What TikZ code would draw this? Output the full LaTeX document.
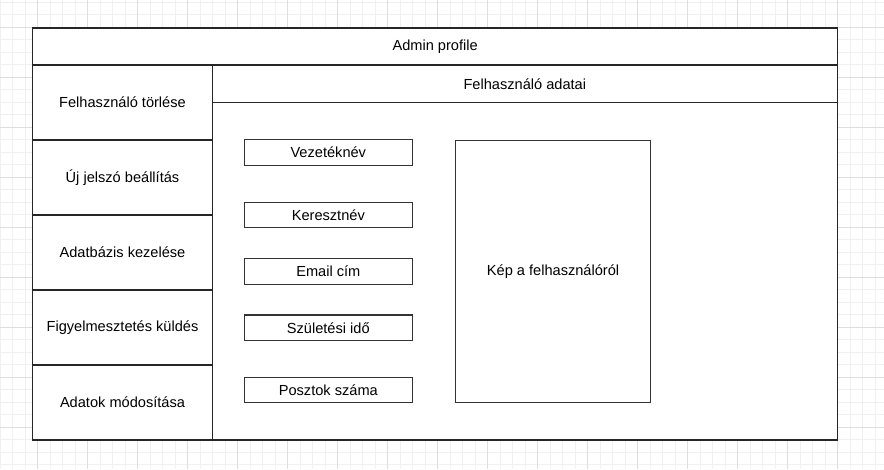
\documentclass[tikz,border=0pt]{standalone}
\usepackage{fontspec}
\setmainfont{Liberation Sans}
\begin{document}
\begin{tikzpicture}[x=1pt,y=-1pt,
  cell/.style={draw=black!85, line width=1.3pt, fill=white, inner sep=0pt, anchor=north west, font=\fontsize{14.6}{17}\selectfont},
  field/.style={draw=black!80, line width=1.1pt, fill=white, inner sep=0pt, anchor=north west, minimum width=167.5pt, minimum height=25.5pt, font=\fontsize{14.6}{17}\selectfont},
  minorgrid/.style={draw=black!6, line width=0.8pt},
  majorgrid/.style={draw=black!13, line width=0.8pt}]
\useasboundingbox (0,0) rectangle (884,469);
\fill[white] (0,0) rectangle (884,469);
% grid
\foreach \i in {0,...,70} {\draw[minorgrid] (0.2+12.5*\i,0) -- (0.2+12.5*\i,469);}
\foreach \i in {0,...,37} {\draw[minorgrid] (0,2.3+12.5*\i) -- (884,2.3+12.5*\i);}
\foreach \i in {0,...,17} {\draw[majorgrid] (37.7+50*\i,0) -- (37.7+50*\i,469);}
\foreach \i in {0,...,9} {\draw[majorgrid] (0,27.3+50*\i) -- (884,27.3+50*\i);}
% main frame
\node[cell, minimum width=805pt, minimum height=412pt] (outer) at (32,27.3) {};
\node[cell, minimum width=805pt, minimum height=37pt] (title) at (32,27.3) {Admin profile};
\node[cell, minimum width=625pt, minimum height=375pt] (panel) at (211.7,64.3) {};
\node[cell, minimum width=625pt, minimum height=37.7pt] (header) at (211.7,64.3) {Felhasználó adatai};
% left menu
\node[cell, minimum width=179.7pt, minimum height=75pt] (m1) at (32,64.3) {Felhasználó törlése};
\node[cell, minimum width=179.7pt, minimum height=75pt] (m2) at (32,139.3) {Új jelszó beállítás};
\node[cell, minimum width=179.7pt, minimum height=75pt] (m3) at (32,214.3) {Adatbázis kezelése};
\node[cell, minimum width=179.7pt, minimum height=75pt] (m4) at (32,289.3) {Figyelmesztetés küldés};
\node[cell, minimum width=179.7pt, minimum height=75pt] (m5) at (32,364.3) {Adatok módosítása};
% fields
\node[field] (f1) at (244,139.3) {Vezetéknév};
\node[field] (f2) at (244,201.7) {Keresztnév};
\node[field] (f3) at (244,258.3) {Email cím};
\node[field] (f4) at (244,314.4) {Születési idő};
\node[field] (f5) at (244,376.8) {Posztok száma};
% picture
\node[field, minimum width=195pt, minimum height=262.8pt] (pic) at (455,139.5) {Kép a felhasználóról};
\end{tikzpicture}
\end{document}
